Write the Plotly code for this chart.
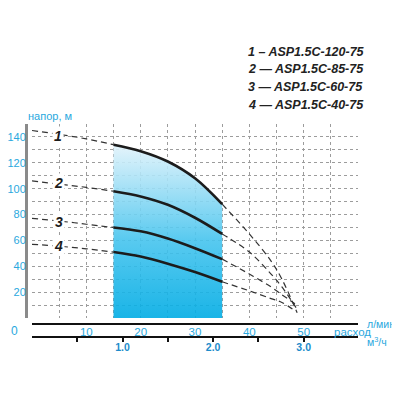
import plotly.graph_objects as go

# ---- data ----
flow_lpm = [0, 5, 10, 15, 20, 25, 30, 35, 40, 44, 46]
head_1 = [145, 142, 138.5, 134, 129, 121, 108, 88, 65, 44, 30]
head_2 = [106, 103.5, 101, 98, 94, 87.5, 77.5, 65, 51, 34, 24]
head_3 = [77, 75, 72.5, 70, 67, 61.5, 54, 45.5, 34, 24, 18]
head_4 = [57, 55.5, 53.5, 51, 47.5, 42, 35.5, 28, 21, 15, 12]
end_points = [(48.8, 4), (48.6, 8), (48.4, 11), (48.6, 5)]
curve_names = ["1", "2", "3", "4"]
legend_lines = ["1 – ASP1.5C-120-75", "2 — ASP1.5C-85-75",
                "3 — ASP1.5C-60-75", "4 — ASP1.5C-40-75"]
label_pos = [(4.85, 141), (4.85, 104), (4.9, 74.5), (4.9, 55.7)]
work_range = (15, 35)
y_ticks = [20, 40, 60, 80, 100, 120, 140]
x_ticks = [10, 20, 30, 40, 50]
m3h_ticks = [0.5, 1.0, 1.5, 2.0, 2.5, 3.0]
m3h_text = ["", "1.0", "", "2.0", "", "3.0"]
LPM_PER_M3H = 1000 / 60

CYAN = "#2aa8de"
DARKBLUE = "#1d8ccb"
FONT = "Liberation Sans"

# page body has an 8px margin -> work in screen coords, shift by OFF
OFF = 8
W, H = 392, 384
ML, MT = 20 - OFF, 124 - OFF
MR = W - (358 - OFF)
MB = H - (340 - OFF)
PW, PH = W - ML - MR, H - MT - MB


def px(x):
    return (x - OFF - ML) / PW


def py(y):
    return (H - MB - (y - OFF)) / PH


fig = go.Figure()

heads = [head_1, head_2, head_3, head_4]

# gradient working zone under curve 1
zx = [x for x in flow_lpm if work_range[0] <= x <= work_range[1]]
zy = [h for x, h in zip(flow_lpm, head_1) if work_range[0] <= x <= work_range[1]]
fig.add_trace(go.Scatter(
    x=zx, y=zy, mode="lines", line=dict(width=0, shape="spline"),
    fill="tozeroy",
    fillgradient=dict(type="vertical", start=0, stop=max(zy),
                      colorscale=[[0, "rgba(0,172,228,0.9)"],
                                  [0.45, "rgba(70,196,238,0.9)"],
                                  [1, "rgba(226,243,251,0.9)"]]),
    hoverinfo="skip", showlegend=False))

for hs, (ex, ey) in zip(heads, end_points):
    xs = flow_lpm + [ex]
    ys = hs + [ey]
    left = [(x, y) for x, y in zip(xs, ys) if x <= work_range[0]]
    mid = [(x, y) for x, y in zip(xs, ys) if work_range[0] <= x <= work_range[1]]
    right = [(x, y) for x, y in zip(xs, ys) if x >= work_range[1]]
    for seg, solid in ((left, False), (mid, True), (right, False)):
        fig.add_trace(go.Scatter(
            x=[p[0] for p in seg], y=[p[1] for p in seg], mode="lines",
            line=dict(color="#1c1c1c" if solid else "#333333",
                      width=2.6 if solid else 1.2,
                      dash="solid" if solid else "6px,4px", shape="spline"),
            hoverinfo="skip", showlegend=False))

# dummy traces to register the extra axes
fig.add_trace(go.Scatter(x=[None], y=[None], xaxis="x2", yaxis="y", showlegend=False))
fig.add_trace(go.Scatter(x=[None], y=[None], xaxis="x3", yaxis="y", showlegend=False))
fig.add_trace(go.Scatter(x=[None], y=[None], xaxis="x", yaxis="y2", showlegend=False))

grid = dict(showgrid=True, gridcolor="#9c9c9c", griddash="dot", gridwidth=1,
            zeroline=False, showticklabels=False, ticks="", showline=False,
            automargin=False)

fig.update_layout(
    width=W, height=H, margin=dict(l=ML, r=MR, t=MT, b=MB, autoexpand=False),
    paper_bgcolor="white", plot_bgcolor="white",
    font=dict(family=FONT, color=CYAN),
    xaxis=dict(domain=[px(32), 1], range=[0, 60], dtick=5, anchor="y", **grid),
    yaxis=dict(domain=[py(318), 1], range=[0, 150], dtick=10, anchor="x", **grid),
    xaxis2=dict(overlaying="x", anchor="free", position=py(324), range=[0, 60],
                tickvals=x_ticks, showgrid=False, zeroline=False, automargin=False,
                showline=True, linecolor="#111", linewidth=1.5, ticks="",
                ticklabelstandoff=-3,
                tickfont=dict(size=11.5, color=CYAN, family=FONT)),
    xaxis3=dict(overlaying="x", anchor="free", position=py(337),
                range=[0, 60 / LPM_PER_M3H], tickvals=m3h_ticks,
                ticktext=[f"<b>{t}</b>" if t else "" for t in m3h_text],
                showgrid=False, zeroline=False, showline=True, linecolor="#111",
                linewidth=1.5, ticks="outside", ticklen=4, tickwidth=2,
                tickcolor="#111", automargin=False, ticklabelstandoff=-3,
                tickfont=dict(size=10.5, color=DARKBLUE, family=FONT)),
    yaxis2=dict(overlaying="y", anchor="free", position=px(26), side="left",
                range=[0, 150], tickvals=y_ticks, showgrid=False, zeroline=False,
                showline=True, linecolor="#8a8a8a", linewidth=3, ticks="",
                automargin=False, ticklabelstandoff=-3,
                tickfont=dict(size=11, color=CYAN, family=FONT)),
)

ann = []
for name, (lx, ly) in zip(curve_names, label_pos):
    ann.append(dict(x=lx, y=ly, xref="x", yref="y", text=f"<b><i>{name}</i></b>",
                    showarrow=False, bgcolor="white", borderpad=1,
                    font=dict(size=14, color="#1c1c1c", family=FONT)))
for i, t in enumerate(legend_lines):
    ann.append(dict(x=px(246), y=py(52 + 17.5 * i), xref="paper", yref="paper",
                    xanchor="left", yanchor="middle", text=f"<b><i>{t}</i></b>",
                    showarrow=False, font=dict(size=12.5, color="#222", family=FONT)))


def txt(text, x, y, size, xanchor="left"):
    ann.append(dict(x=px(x), y=py(y), xref="paper", yref="paper", text=text,
                    xanchor=xanchor, yanchor="middle", showarrow=False,
                    font=dict(size=size, color=CYAN, family=FONT)))


txt("0", 14, 331, 12, "center")
txt("напор, м", 26, 116, 11)
txt("расход", 332, 332, 11.5)
txt("л/мин", 365, 324, 10.5)
txt("м<sup>3</sup>/ч", 365, 341, 10.5)
fig.update_layout(annotations=ann)

fig.write_html("out.html")
